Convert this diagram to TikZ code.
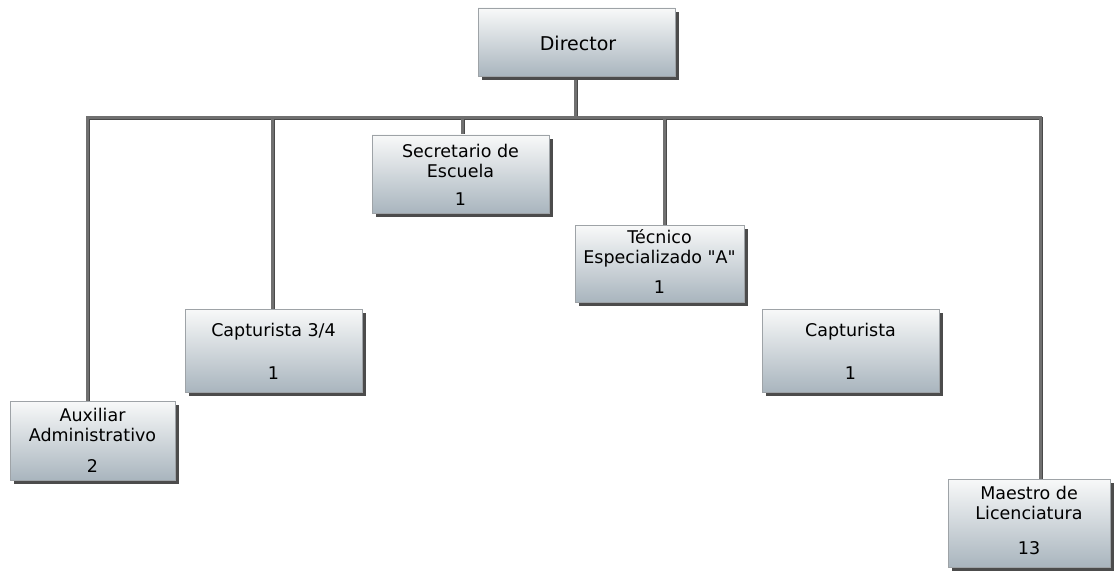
\documentclass[tikz,border=0pt]{standalone}
\usepackage{fontspec}
\setmainfont{DejaVu Sans}
% family without the TeX quote mapping, so " stays a straight quote
\newfontfamily\labelfont{DejaVu Sans}
\usetikzlibrary{shadows,backgrounds}
\definecolor{boxtop}{HTML}{F8F9F9}
\definecolor{boxbot}{HTML}{A9B5BE}
\definecolor{boxedge}{HTML}{9EA3A7}
\definecolor{boxshade}{HTML}{4C4C4C}
\definecolor{wire}{HTML}{707070}
\definecolor{wireshade}{HTML}{4A4A4A}
\tikzset{
  post/.style={draw=boxedge, line width=0.8pt, top color=boxtop, bottom color=boxbot,
    inner sep=0pt, outer sep=0pt,
    drop shadow={shadow xshift=4pt, shadow yshift=-4pt, fill=boxshade, opacity=1}},
  title/.style={font=\labelfont\fontsize{17.5}{20}\selectfont, align=center, inner sep=0pt},
  bigtitle/.style={font=\labelfont\fontsize{19}{22}\selectfont, inner sep=0pt},
  count/.style={font=\labelfont\fontsize{17.5}{20}\selectfont, inner sep=0pt},
  conn/.style={draw=wire, line width=3pt,
    preaction={draw=wireshade, line width=3pt, transform canvas={shift={(1pt,-1pt)}}}},
}
\begin{document}
\begin{tikzpicture}[x=1pt, y=-1pt]
\useasboundingbox (0,0) rectangle (1115,572);

% boxes
\node[post, minimum width=197pt, minimum height=68pt] (dir) at (576.5,42) {};
\node[post, minimum width=177pt, minimum height=78pt] (sec) at (460.5,174) {};
\node[post, minimum width=169pt, minimum height=77pt] (tec) at (659.5,263.5) {};
\node[post, minimum width=177pt, minimum height=83pt] (capa) at (273.5,350.5) {};
\node[post, minimum width=177pt, minimum height=83pt] (capb) at (850.5,350.5) {};
\node[post, minimum width=165pt, minimum height=79pt] (aux) at (92.5,440.5) {};
\node[post, minimum width=162pt, minimum height=88pt] (mae) at (1029,523) {};

% connectors, kept behind the boxes
\coordinate (bus) at (575,118);
\begin{scope}[on background layer]
\draw[conn] ([xshift=-1.5pt]dir.south) -- ([xshift=-1.5pt]dir.south |- bus);
\draw[conn, line join=miter] ([xshift=-5.5pt]aux.north) |- ([xshift=11pt]mae.north |- bus) -- ([xshift=11pt]mae.north);
\draw[conn] ([xshift=-1.5pt]capa.north) -- ([xshift=-1.5pt]capa.north |- bus);
\draw[conn] ([xshift=1.5pt]sec.north) -- ([xshift=1.5pt]sec.north |- bus);
\draw[conn] ([xshift=4.5pt]tec.north) -- ([xshift=4.5pt]tec.north |- bus);
\end{scope}

% texts
\node[bigtitle] (dirT) at (578,43) {Director};
\node[title] (secT) at (460.5,160.5) {Secretario de\\Escuela};
\node[count] (secN) at (460.5,199) {1};
\node[title] (tecT) at (659.5,248) {Técnico\\Especializado "A"};
\node[count] (tecN) at (659.5,287) {1};
\node[title] (capaT) at (273.5,332) {Capturista 3/4};
\node[count] (capaN) at (273.5,373) {1};
\node[title] (capbT) at (850.5,332) {Capturista};
\node[count] (capbN) at (850.5,373) {1};
\node[title] (auxT) at (92.5,425) {Auxiliar\\Administrativo};
\node[count] (auxN) at (92.5,466) {2};
\node[title] (maeT) at (1029,503) {Maestro de\\Licenciatura};
\node[count] (maeN) at (1029,548) {13};
\end{tikzpicture}
\end{document}
